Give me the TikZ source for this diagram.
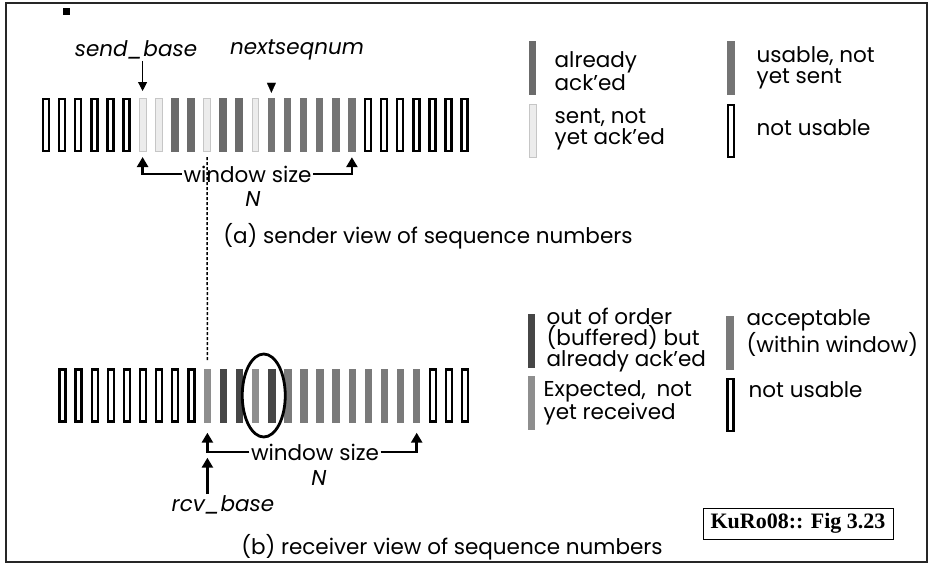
\documentclass[tikz,border=0pt]{standalone}
\usepackage{fontspec}
\setmainfont{Poppins}
\newfontfamily\figfont{Liberation Serif}
\usetikzlibrary{arrows.meta,shapes.geometric,calc}

\definecolor{ackgray}{HTML}{6B6B6B}
\definecolor{usegray}{HTML}{747474}
\definecolor{bufgray}{HTML}{464646}
\definecolor{expgray}{HTML}{8E8E8E}
\definecolor{accgray}{HTML}{7A7A7A}

\begin{document}
\begin{tikzpicture}[x=1pt, y=-1pt]

\tikzset{
  free/.style={minimum width=6pt, minimum height=52pt, inner sep=0pt, draw, line width=2.4pt, fill=white},
  sent/.style={minimum width=6.6pt, minimum height=53.4pt, inner sep=0pt, draw=gray!45, line width=0.6pt, fill=gray!15},
  acked/.style={minimum width=7.5pt, minimum height=54pt, inner sep=0pt, fill=ackgray},
  usable/.style={minimum width=7.5pt, minimum height=54pt, inner sep=0pt, fill=usegray},
  buffered/.style={minimum width=7.5pt, minimum height=54pt, inner sep=0pt, fill=bufgray},
  expected/.style={minimum width=7.5pt, minimum height=54pt, inner sep=0pt, fill=expgray},
  acceptable/.style={minimum width=7.5pt, minimum height=54pt, inner sep=0pt, fill=accgray},
  lbl/.style={font=\fontsize{21.5}{21}\selectfont, inner sep=1.5pt},
  ital/.style={font=\fontsize{21.5}{21}\selectfont\itshape, inner sep=1.5pt},
  legtxt/.style={lbl, anchor=west, align=left},
  oval/.style={ellipse, draw, line width=2.8pt, minimum width=43pt, minimum height=83pt, inner sep=0pt},
  thinarr/.style={-{Triangle[length=9pt, width=9pt]}, line width=1pt},
  winarr/.style={-{Triangle[length=10pt, width=11pt]}, line width=2.6pt},
}

\useasboundingbox (0,0) rectangle (929,573);
\draw[line width=1.5pt, black!85] (6,3) rectangle (927,562);
\fill (63,8) rectangle (70,15);

% sender row
\node[free,name=s0] at (46.0,125) {};
\node[free,name=s1] at (62.1,125) {};
\node[free,name=s2] at (78.2,125) {};
\node[free,name=s3] at (94.3,125) {};
\node[free,name=s4] at (110.4,125) {};
\node[free,name=s5] at (126.5,125) {};
\node[sent,name=s6] at (142.6,125) {};
\node[sent,name=s7] at (158.7,125) {};
\node[acked,name=s8] at (174.8,125) {};
\node[acked,name=s9] at (190.9,125) {};
\node[sent,name=s10] at (207.0,125) {};
\node[acked,name=s11] at (223.1,125) {};
\node[acked,name=s12] at (239.2,125) {};
\node[sent,name=s13] at (255.3,125) {};
\node[usable,name=s14] at (271.4,125) {};
\node[usable,name=s15] at (287.5,125) {};
\node[usable,name=s16] at (303.6,125) {};
\node[usable,name=s17] at (319.7,125) {};
\node[usable,name=s18] at (335.8,125) {};
\node[usable,name=s19] at (351.9,125) {};
\node[free,name=s20] at (368.0,125) {};
\node[free,name=s21] at (384.1,125) {};
\node[free,name=s22] at (400.2,125) {};
\node[free,name=s23] at (416.3,125) {};
\node[free,name=s24] at (432.4,125) {};
\node[free,name=s25] at (448.5,125) {};
\node[free,name=s26] at (464.6,125) {};

\node[ital,name=sendb] at (136,50) {send\_base};
\node[ital,name=nextq] at (297,50) {nextseqnum};
\node[lbl,name=wintop] at (247.5,174) {window size};
\node[ital,name=ntop] at (253,199) {N};
\node[lbl,name=capa] at (428,236) {(a) sender view of sequence numbers};

\draw[thinarr] (s6 |- sendb.south) -- ([yshift=7pt]s6.north);
\draw[-{Triangle[length=10pt, width=9pt]}, line width=0.1pt] ([yshift=15pt]s14.north) -- ([yshift=5pt]s14.north);
\draw[winarr] (wintop.west) -| ([yshift=-5pt]s6.south);
\draw[winarr] (wintop.east) -| ([yshift=-5pt]s19.south);

% receiver row
\node[free,name=r0] at (62.5,395.5) {};
\node[free,name=r1] at (78.6,395.5) {};
\node[free,name=r2] at (94.7,395.5) {};
\node[free,name=r3] at (110.8,395.5) {};
\node[free,name=r4] at (126.9,395.5) {};
\node[free,name=r5] at (143.0,395.5) {};
\node[free,name=r6] at (159.1,395.5) {};
\node[free,name=r7] at (175.2,395.5) {};
\node[free,name=r8] at (191.3,395.5) {};
\node[expected,name=r9] at (207.4,395.5) {};
\node[buffered,name=r10] at (223.5,395.5) {};
\node[buffered,name=r11] at (239.6,395.5) {};
\node[expected,name=r12] at (255.7,395.5) {};
\node[buffered,name=r13] at (271.8,395.5) {};
\node[acceptable,name=r14] at (287.9,395.5) {};
\node[acceptable,name=r15] at (304.0,395.5) {};
\node[acceptable,name=r16] at (320.1,395.5) {};
\node[acceptable,name=r17] at (336.2,395.5) {};
\node[acceptable,name=r18] at (352.3,395.5) {};
\node[acceptable,name=r19] at (368.4,395.5) {};
\node[acceptable,name=r20] at (384.5,395.5) {};
\node[acceptable,name=r21] at (400.6,395.5) {};
\node[acceptable,name=r22] at (416.7,395.5) {};
\node[free,name=r23] at (432.8,395.5) {};
\node[free,name=r24] at (448.9,395.5) {};
\node[free,name=r25] at (465.0,395.5) {};

\node[oval,name=circ] at ($(r12)!0.5!(r13)$) {};
\node[lbl,name=winbot] at (315,452) {window size};
\node[ital,name=nbot] at (319,478) {N};
\node[ital,name=rcvb] at (223,505) {rcv\_base};
\node[lbl,name=capb] at (452,547) {(b) receiver view of sequence numbers};

\draw[winarr] (winbot.west) -| ([yshift=-10pt]r9.south);
\draw[winarr] (winbot.east) -| ([yshift=-10pt]r22.south);
\draw[winarr] (r9 |- rcvb.north) -- ([yshift=-35pt]r9.south);
\draw[line width=1.5pt, dash pattern=on 3pt off 2pt, shorten <=5pt, shorten >=8pt] (s10.south) -- (r9.north);

% legends
\node[acked,name=lgAck] at (532.5,68) {};
\node[legtxt,name=lgAckT] at (553,71) {already\\ack’ed};
\node[usable,name=lgUse] at (731,68) {};
\node[legtxt,name=lgUseT] at (755,67.5) {usable, not\\yet sent};
\node[sent,name=lgSent] at (532.5,130.5) {};
\node[legtxt,name=lgSentT] at (553,129) {sent, not\\yet ack’ed};
\node[free,name=lgFree] at (731,131) {};
\node[legtxt,name=lgFreeT] at (755,128) {not usable};

\node[buffered,name=lgBuf] at (531.5,341) {};
\node[legtxt,name=lgBufT] at (545,340) {out of order\\(buffered) but\\already ack’ed};
\node[acceptable,name=lgAcc] at (730,343) {};
\node[legtxt,name=lgAccT] at (745,333) {acceptable\\(within window)};
\node[expected,name=lgExp] at (531.5,403) {};
\node[legtxt,name=lgExpT] at (542,403) {Expected,\enspace not\\yet received};
\node[free,name=lgFree2] at (730.5,405) {};
\node[legtxt,name=lgFree2T] at (747,390) {not usable};

\node[draw, line width=1pt, minimum width=190pt, minimum height=31pt, font=\figfont\fontsize{22}{24}\selectfont\bfseries, name=figref] at (798,523.5) {KuRo08:: Fig 3.23};

\end{tikzpicture}
\end{document}
